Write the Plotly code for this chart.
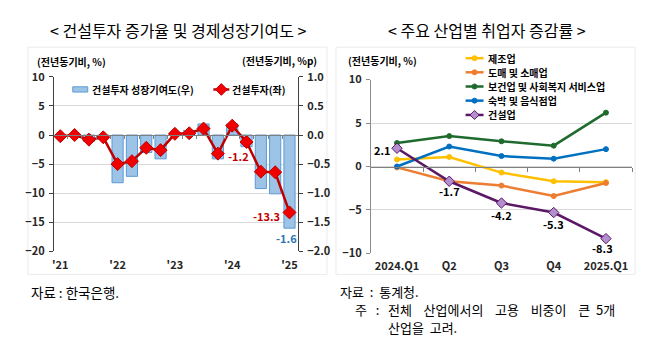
import plotly.graph_objects as go

W, H = 658, 352
FONT = "Noto Sans CJK KR"

# ---------------- data: left panel ----------------
quarters = ["2021Q1", "2021Q2", "2021Q3", "2021Q4",
            "2022Q1", "2022Q2", "2022Q3", "2022Q4",
            "2023Q1", "2023Q2", "2023Q3", "2023Q4",
            "2024Q1", "2024Q2", "2024Q3", "2024Q4",
            "2025Q1"]
year_ticks = ["'21", "'22", "'23", "'24", "'25"]
invest_growth = [-0.2, 0.0, -0.8, -0.4, -5.0, -4.5, -2.2, -2.6,
                 0.2, 0.3, 1.1, -3.2, 1.6, -1.2, -6.3, -6.4, -13.3]
invest_contrib = [-0.02, -0.01, -0.11, -0.05, -0.82, -0.71, -0.30, -0.41,
                  0.02, 0.08, 0.19, -0.41, 0.19, -0.20, -0.92, -1.01, -1.60]

# ---------------- data: right panel ----------------
periods = ["2024.Q1", "Q2", "Q3", "Q4", "2025.Q1"]
manufacturing = [0.8, 1.1, -0.7, -1.7, -1.8]
wholesale_retail = [-0.1, -1.7, -2.2, -3.4, -1.9]
health_social = [2.7, 3.5, 2.9, 2.4, 6.2]
accommodation_food = [0.0, 2.3, 1.2, 0.9, 2.0]
construction = [2.1, -1.7, -4.2, -5.3, -8.3]

right_series = [
    ("제조업", manufacturing, "#ffc000", "circle", "#ffc000"),
    ("도매 및 소매업", wholesale_retail, "#ed7d31", "circle", "#ed7d31"),
    ("보건업 및 사회복지 서비스업", health_social, "#1f6b2e", "circle", "#1f6b2e"),
    ("숙박 및 음식점업", accommodation_food, "#0070c0", "circle", "#0070c0"),
    ("건설업", construction, "#5b1865", "diamond", "#b48fd0"),
]

BAR_FILL = "#9dc3e6"
BAR_LINE = "#5b9bd5"
RED_LINE = "#c00000"
RED_MARK = "#f00000"
GRID = "#d9d9d9"
AXIS = "#7f7f7f"


def px(x):
    return x / W


def py(y):
    return 1 - y / H


fig = go.Figure()

# ---- left panel traces ----
fig.add_trace(go.Bar(
    x=quarters, y=invest_contrib, xaxis="x", yaxis="y",
    width=0.78, marker=dict(color=BAR_FILL, line=dict(color=BAR_LINE, width=1)),
    showlegend=False, hoverinfo="skip"))
fig.add_trace(go.Scatter(x=[None], y=[None], xaxis="x3", yaxis="y", showlegend=False, hoverinfo="skip"))
fig.add_trace(go.Scatter(
    x=quarters, y=invest_growth, xaxis="x", yaxis="y2", mode="lines+markers",
    line=dict(color=RED_LINE, width=2.5),
    marker=dict(symbol="diamond", size=10, color=RED_MARK, line=dict(color=RED_LINE, width=1)),
    showlegend=False, hoverinfo="skip"))

# ---- right panel traces ----
fig.add_trace(go.Scatter(x=[None], y=[None], xaxis="x4", yaxis="y3", showlegend=False, hoverinfo="skip"))
for name, vals, col, sym, mcol in right_series:
    fig.add_trace(go.Scatter(
        x=periods, y=vals, xaxis="x2", yaxis="y3", mode="lines+markers",
        line=dict(color=col, width=2.5),
        marker=dict(symbol=sym, size=5 if sym == "circle" else 8, color=mcol,
                    line=dict(color=col, width=1)),
        showlegend=False, hoverinfo="skip"))

# ---- manual legends on a pixel-space axis pair ----
fig.add_trace(go.Scatter(x=[212, 228], y=[84.3, 84.3], xaxis="x5", yaxis="y5", mode="lines",
                         line=dict(color=RED_LINE, width=2.5), showlegend=False, hoverinfo="skip"))
fig.add_trace(go.Scatter(x=[220], y=[84.3], xaxis="x5", yaxis="y5", mode="markers",
                         marker=dict(symbol="diamond", size=9, color=RED_MARK, line=dict(color=RED_LINE, width=1)),
                         showlegend=False, hoverinfo="skip"))
leg_rows = [51.5, 66.3, 81.2, 96.0, 111.0]
for (name, vals, col, sym, mcol), ry in zip(right_series, leg_rows):
    fig.add_trace(go.Scatter(x=[465, 483], y=[ry, ry], xaxis="x5", yaxis="y5", mode="lines",
                             line=dict(color=col, width=2.5), showlegend=False, hoverinfo="skip"))
    fig.add_trace(go.Scatter(x=[474], y=[ry], xaxis="x5", yaxis="y5", mode="markers",
                             marker=dict(symbol=sym, size=5 if sym == "circle" else 7, color=mcol,
                                         line=dict(color=col, width=1)),
                             showlegend=False, hoverinfo="skip"))

tickfont = dict(family=FONT, size=11, color="#262626", weight="bold")

L_DOM_X = [px(52), px(297)]
L_DOM_Y = [py(254), py(71)]
R_DOM_X = [px(370), px(632)]
R_DOM_Y = [py(256), py(74)]
L_RANGE_X = [-0.45, 16.6]
R_RANGE_X = [-0.5, 4.5]

l_zero = L_DOM_Y[0] + (0 - (-20)) / 30 * (L_DOM_Y[1] - L_DOM_Y[0])
r_zero = R_DOM_Y[0] + (0 - (-10)) / 20 * (R_DOM_Y[1] - R_DOM_Y[0])

fig.update_layout(
    width=W, height=H, margin=dict(l=0, r=0, t=0, b=0),
    paper_bgcolor="white", plot_bgcolor="rgba(0,0,0,0)",
    font=dict(family=FONT, color="#000"),
    showlegend=False,
    xaxis=dict(domain=L_DOM_X, anchor="y", type="category", range=L_RANGE_X,
               tickvals=[q for q in quarters if q.endswith("Q1")], ticktext=year_ticks,
               showline=False, showgrid=False, ticks="", tickfont=tickfont,
               ticklabelstandoff=6),
    yaxis=dict(domain=L_DOM_Y, anchor="x", side="right", range=[-2, 1], dtick=0.5, tick0=0,
               tickformat=".1f", showline=True, linecolor="#404040", linewidth=1,
               ticks="outside", ticklen=4, tickcolor="#404040", showgrid=True, gridcolor=GRID,
               zeroline=False, tickfont=tickfont, ticklabelstandoff=2),
    yaxis2=dict(overlaying="y", side="left", anchor="x", range=[-20, 10], dtick=5, tick0=0,
                showline=True, linecolor="#404040", linewidth=1, ticks="outside", ticklen=4,
                tickcolor="#404040", showgrid=False, zeroline=False,
                tickfont=tickfont, ticklabelstandoff=2),
    xaxis3=dict(overlaying="x", anchor="free", position=l_zero, range=L_RANGE_X,
                tickvals=[i + 0.5 for i in range(len(quarters) - 1)], showticklabels=False,
                ticks="outside", ticklen=3, tickcolor=AXIS, showline=True, linecolor=AXIS,
                linewidth=1, showgrid=False, zeroline=False),
    xaxis2=dict(domain=R_DOM_X, anchor="y3", type="category", range=R_RANGE_X,
                showline=False, showgrid=False, ticks="", tickfont=tickfont,
                ticklabelstandoff=5),
    yaxis3=dict(domain=R_DOM_Y, anchor="x2", range=[-10, 10], dtick=5, tick0=0,
                showline=True, linecolor="#8c8c8c", linewidth=1, ticks="outside", ticklen=4,
                tickcolor="#8c8c8c", showgrid=True, gridcolor=GRID, zeroline=False,
                tickfont=tickfont, ticklabelstandoff=2),
    xaxis4=dict(overlaying="x2", anchor="free", position=r_zero, range=R_RANGE_X,
                tickvals=[i + 0.5 for i in range(len(periods))], showticklabels=False,
                ticks="outside", ticklen=4, tickcolor=AXIS, showline=True, linecolor=AXIS,
                linewidth=1, showgrid=False, zeroline=False),
    xaxis5=dict(domain=[0, 1], anchor="y5", range=[0, W], visible=False, fixedrange=True),
    yaxis5=dict(domain=[0, 1], anchor="x5", range=[H, 0], visible=False, fixedrange=True),
)

shapes = []
for x0, x1 in [(26, 326), (335, 635)]:
    shapes.append(dict(type="rect", xref="paper", yref="paper", x0=px(x0), x1=px(x1),
                       y0=py(278), y1=py(40), line=dict(color="#ebebeb", width=1), layer="below"))
shapes.append(dict(type="rect", xref="paper", yref="paper", x0=px(71), x1=px(86),
                   y0=py(87), y1=py(81.5), fillcolor=BAR_FILL, line=dict(color=BAR_LINE, width=1)))
fig.update_layout(shapes=shapes)

ann = []


def text(x, y, s, size=10, weight="bold", color="#000", xanchor="left", yanchor="middle"):
    ann.append(dict(xref="paper", yref="paper", x=px(x), y=py(y), text=s, showarrow=False,
                    xanchor=xanchor, yanchor=yanchor, align="left",
                    font=dict(family=FONT, size=size, color=color, weight=weight)))


text(177, 22, "&lt; 건설투자 증가율 및 경제성장기여도 &gt;", size=16, weight="normal", xanchor="center")
text(486, 22, "&lt; 주요 산업별 취업자 증감률 &gt;", size=16, weight="normal", xanchor="center")
text(33, 55, "(전년동기비, %)")
text(318, 54, "(전년동기비, %p)", xanchor="right")
text(345, 54, "(전년동기비, %)")
text(88, 84, "건설투자 성장기여도(우)")
text(229, 84, "건설투자(좌)")
for (name, *_), ry in zip(right_series, leg_rows):
    text(485, ry, name)

S = "&nbsp;"
text(27, 296, "자료 : 한국은행.", size=13.5, weight="normal")
text(337, 295.5, f"자료{S * 2}:{S * 2}통계청.", size=13, weight="normal")
text(352, 314.5,
     f"주{S * 3}:{S * 3}전체{S * 4}산업에서의{S * 4}고용{S * 4}비중이{S * 4}큰{S * 2}5개",
     size=13, weight="normal")
text(385, 333.5, f"산업을{S * 2}고려.", size=13, weight="normal")

red_font = dict(family=FONT, size=11, weight="bold", color=RED_LINE)
ann.append(dict(xref="x", yref="y2", x=quarters[13], y=invest_growth[13], text=f"{invest_growth[13]:.1f}",
                xshift=-8, yshift=-14, showarrow=False, font=red_font))
ann.append(dict(xref="x", yref="y2", x=quarters[16], y=invest_growth[16], text=f"{invest_growth[16]:.1f}",
                xshift=-23, yshift=-4, showarrow=False, font=red_font))
ann.append(dict(xref="x", yref="y", x=quarters[16], y=invest_contrib[16], text=f"{invest_contrib[16]:.1f}",
                xshift=-3, yshift=-10, showarrow=False,
                font=dict(family=FONT, size=11, weight="bold", color="#2e75b6")))
shifts = [(-14, -2), (0, -10), (0, -12), (0, -11), (-3, -9)]
for p, v, (dx, dy) in zip(periods, construction, shifts):
    ann.append(dict(xref="x2", yref="y3", x=p, y=v, text=f"{v:.1f}", xshift=dx, yshift=dy,
                    showarrow=False, font=dict(family=FONT, size=11, weight="bold", color="#000")))

fig.update_layout(annotations=ann)

fig.write_html("out.html")
